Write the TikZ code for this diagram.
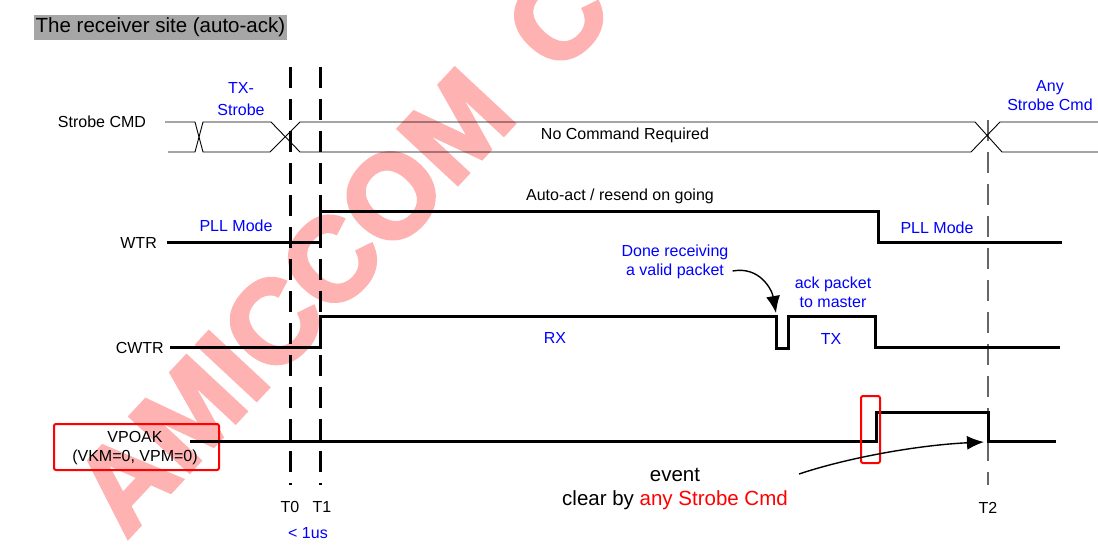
\documentclass[tikz,border=0pt]{standalone}
\usepackage{fontspec}
\setmainfont{Liberation Sans}
\newfontfamily\wmfont{Liberation Sans}[UprightFont={* Bold}, FakeBold=3]
\usetikzlibrary{arrows.meta}
\definecolor{wmpink}{RGB}{255,178,178}
\definecolor{hdgray}{RGB}{166,166,166}
\definecolor{lblue}{RGB}{0,0,255}
\begin{document}
\begin{tikzpicture}[x=1pt,y=-1pt,
  txt/.style={font=\fontsize{16}{19}\selectfont, inner sep=0pt, align=center},
  note/.style={txt, text=lblue},
  sig/.style={line width=3pt},
  bus/.style={line width=0.9pt},
  tline/.style={line width=3pt, dash pattern=on 21pt off 11pt},
  hilite/.style={draw=red, line width=2pt, rounded corners=2pt},
  arrowline/.style={-{Latex[length=17pt,width=14pt]}, line width=1.4pt}]
  \useasboundingbox (0,0) rectangle (1098,545);
  \clip (0,0) rectangle (1098,545);
  % watermark
  \node[font=\fontsize{118}{118}\wmfont, text=wmpink, rotate=47,
        anchor=base west, inner sep=0pt] (wm) at (126,540) {AMICCOM\hspace{0.2em} CO};
  \node[fill=hdgray, anchor=west, font=\fontsize{20.5}{24}\selectfont, inner xsep=1.5pt,
        inner ysep=2.5pt, text height=15pt, text depth=5pt] (title) at (34,27.5)
        {The receiver site (auto-ack)};
  % time markers
  \foreach \t/\x/\lx in {T0/290/290, T1/320/322} {
    \coordinate (\t top) at (\x,67);
    \coordinate (\t bot) at (\x,485);
    \draw[tline] (\t top) -- (\t bot);
    \node[txt] (\t lbl) at (\lx,507) {\t};
  }
  \coordinate (T2top) at (988,120);
  \coordinate (T2bot) at (988,485);
  \draw[tline, line width=2pt, draw=black!60] (T2top) -- (T2bot);
  \node[txt] (T2lbl) at (988,508) {T2};
  \node[note] (lt) at (308,533) {< 1us};
  % Strobe CMD
  \node[txt] (strobe) at (102,122) {Strobe CMD};
  \draw[bus] (165,122) -- (195,122) -- (203,152) -- (270,152) -- (300,122)
    -- (975,122) -- (1002,152) -- (1098,152);
  \draw[bus] (168,152) -- (195,152) -- (203,122) -- (271,122) -- (300,152)
    -- (971,152) -- (1000,122) -- (1098,122);
  \node[note] (txs) at (241,99) {TX-\\[3pt]Strobe};
  \node[txt] (nocmd) at (625,135) {No Command Required};
  \node[note] (anycmd) at (1050,96) {Any\\Strobe Cmd};
  % WTR
  \node[txt, anchor=east] (wtr) at (157,243) {WTR};
  \draw[sig] ([xshift=10pt]wtr.east) -| (320,212) -| (878,243) -- (1062,243);
  \node[note] (pll1) at (236,226) {PLL Mode};
  \node[note] (pll2) at (937,228) {PLL Mode};
  \node[txt] (auto) at (620,196) {Auto-act / resend on going};
  % CWTR
  \node[txt, anchor=east] (cwtr) at (164,348) {CWTR};
  \draw[sig] ([xshift=6pt]cwtr.east) -| (320,317) -| (776,349) -| (788,317)
    -| (875,348) -- (1060,348);
  \node[note] (rx) at (555,338) {RX};
  \node[note] (tx) at (831,339) {TX};
  \node[note] (ack) at (833,292) {ack packet\\to master};
  \node[note] (done) at (675,262) {Done receiving\\a valid packet};
  \coordinate (dip) at (776,313);
  \draw[arrowline] ([xshift=4pt,yshift=-9pt]done.east) .. controls (760,266) and (772,290) .. (dip);
  % VPOAK
  \node[txt] (vpoak) at (135,448) {VPOAK\\(VKM=0, VPM=0)};
  \draw[hilite] (54,424) rectangle (219,470);
  \coordinate (vstart) at (190,441);
  \draw[sig] (vstart) -| (876,412) -| (988,441) -- (1056,441);
  \draw[hilite] (861,396) rectangle (880,463);
  \node[txt, font=\fontsize{20.5}{24}\selectfont] (event) at (675,489)
    {event\\clear by \textcolor{red}{any Strobe Cmd}};
  \coordinate (evs) at (799,474);
  \coordinate (clr) at (984,442);
  \draw[arrowline] (evs) .. controls (850,457) and (920,445) .. (clr);
\end{tikzpicture}
\end{document}
